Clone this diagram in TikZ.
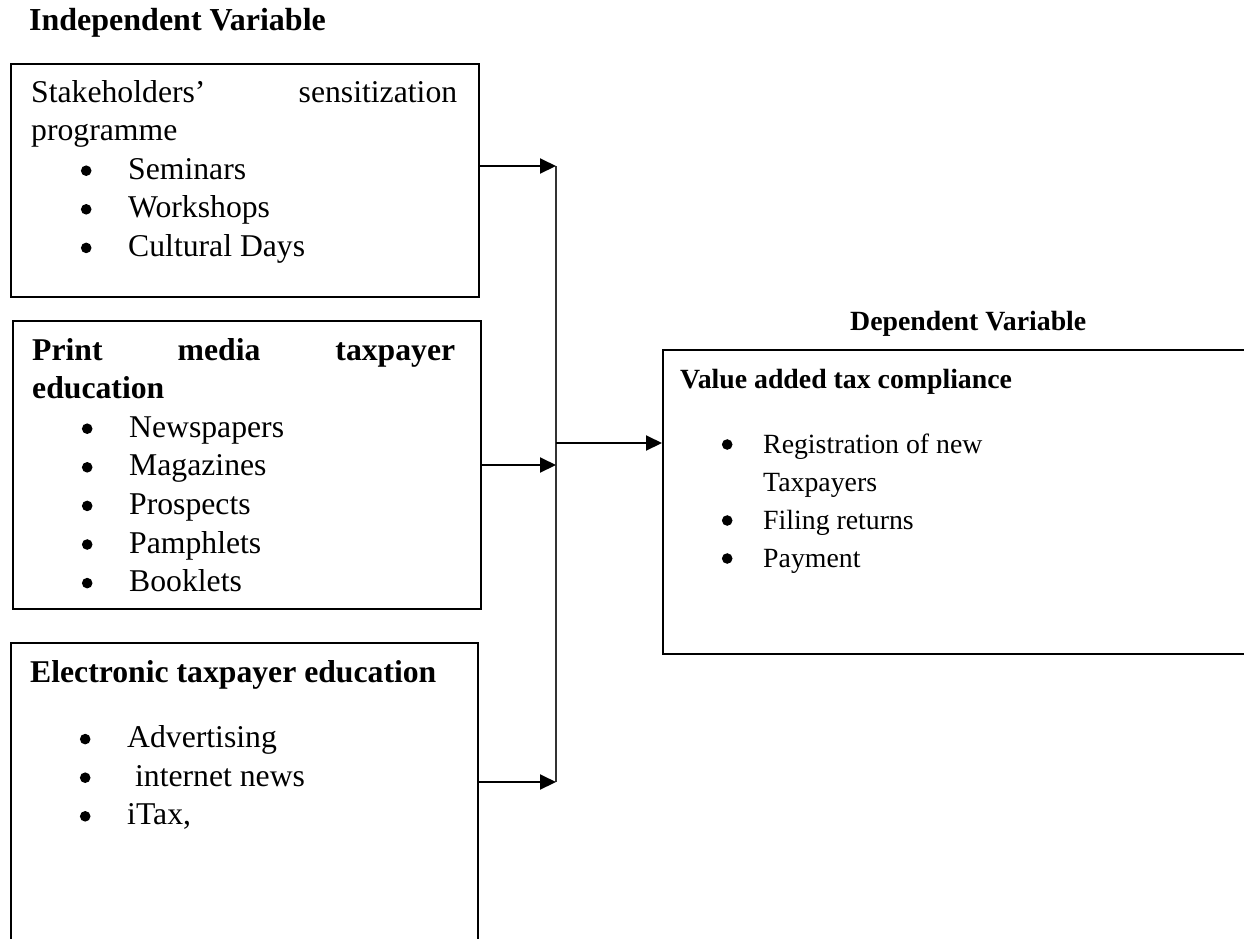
\documentclass[tikz,border=0pt]{standalone}
\usepackage{fontspec}
\setmainfont{Liberation Serif}
\usetikzlibrary{positioning,calc,arrows.meta}
\newcommand{\dotmark}{\tikz[baseline=0pt]\fill[black] (0pt,8.5pt) circle[radius=5.3pt];}
\NewDocumentCommand{\bitem}{O{55pt} O{42pt} m}{\hspace*{#1}\makebox[0pt]{\dotmark}\hspace*{#2}#3}
\tikzstyle{arrow} = [
    line width=2pt,
    -{Triangle[length=16pt,width=15pt]},
    draw=black
]

\begin{document}
\begin{tikzpicture}[
    x=1pt, y=1pt,
    font=\fontsize{31.7}{38.6}\selectfont,
    varbox/.style={
        draw,
        line width=2pt,
        anchor=north west,
        inner sep=0pt
    },
    boxtext/.style={
        anchor=base west,
        inner sep=0pt,
        align=left
    },
    heading/.style={
        anchor=base west,
        inner sep=0pt,
        font=\fontsize{32}{38.6}\selectfont\bfseries
    },
    small/.style={
        font=\fontsize{27.8}{38}\selectfont
    },
    bus/.style={
        line width=2pt,
        draw=black!80
    }
]
\useasboundingbox (0,0) rectangle (1244,-938);
\clip (0,0) rectangle (1244,-938);

% Headings
\node[heading] (indep) at (29,-30) {Independent Variable};
\node[heading, font=\fontsize{27.8}{38}\selectfont\bfseries] (dep) at (850,-330) {Dependent Variable};

% Boxes
\node[varbox, minimum width=468pt, minimum height=233pt] (stake) at (10,-63) {};
\node[varbox, minimum width=468pt, minimum height=288pt] (print) at (12,-320) {};
\node[varbox, minimum width=467pt, minimum height=330pt] (elec) at (10,-642) {};
\node[varbox, minimum width=620pt, minimum height=304pt] (vat) at (662,-349) {};

% Box texts
\node[boxtext] (staketxt) at (31,-102) {\begin{tabular}[t]{@{}l@{}}
\makebox[426pt][s]{Stakeholders’\hfill sensitization}\\
programme\\
\bitem{Seminars}\\
\bitem{Workshops}\\
\bitem{Cultural Days}
\end{tabular}};
\node[boxtext] (printtxt) at (32,-360) {\begin{tabular}[t]{@{}l@{}}
\makebox[423pt][s]{\bfseries Print\hfill media\hfill taxpayer}\\
\bfseries education\\
\bitem{Newspapers}\\
\bitem{Magazines}\\
\bitem{Prospects}\\
\bitem{Pamphlets}\\
\bitem{Booklets}
\end{tabular}};
\node[boxtext] (electxt) at (30,-682) {\begin{tabular}[t]{@{}l@{}}
\bfseries Electronic taxpayer education\\[27pt]
\bitem{Advertising}\\
\bitem{\ internet news}\\
\bitem{iTax,}
\end{tabular}};
\node[boxtext, small] (vattxt) at (680,-388) {\begin{tabular}[t]{@{}l@{}}
\bfseries Value added tax compliance\\[27pt]
\bitem[47pt][36pt]{Registration of new}\\
\hspace*{83pt}Taxpayers\\
\bitem[47pt][36pt]{Filing returns}\\
\bitem[47pt][36pt]{Payment}
\end{tabular}};

% Bus
\coordinate (bustop) at (556,-166);
\coordinate (busmid) at (556,-443);
\coordinate (busbot) at (556,-782);
\draw[bus] (bustop) -- (busbot);

% Edges
\draw[arrow] (stake.east |- bustop) -- (bustop);
\draw[arrow] (print.east) -- (print.east -| bustop);
\draw[arrow] (elec.east |- busbot) -- (busbot);
\draw[arrow] (busmid) -- (vat.west |- busmid);

\end{tikzpicture}
\end{document}
